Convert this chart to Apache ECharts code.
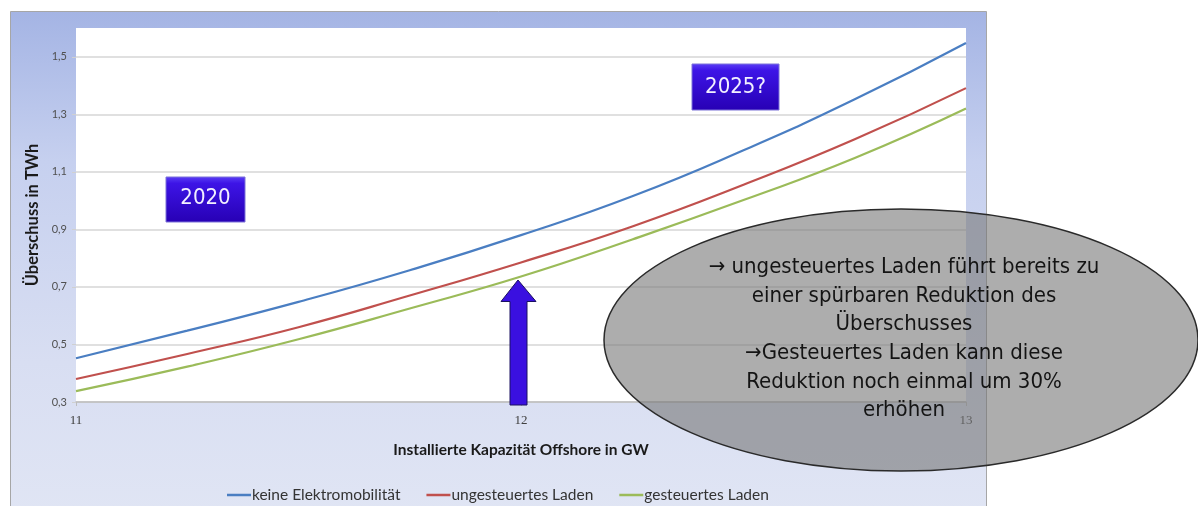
<!DOCTYPE html>
<html>
<head>
<meta charset="utf-8">
<script src="https://cdn.jsdelivr.net/npm/echarts@6/dist/echarts.min.js"></script>
<style>
html,body{margin:0;padding:0;background:#fff;}
#chart{width:1198px;height:506px;}
</style>
</head>
<body>
<div id="chart"></div>
<script>
// ---- data ----
const xValues = [11, 11.25, 11.5, 11.75, 12, 12.25, 12.5, 12.75, 13];
const keineElektromobilitaet = [0.452, 0.548, 0.648, 0.758, 0.880, 1.015, 1.175, 1.352, 1.548];
const ungesteuertesLaden = [0.380, 0.467, 0.560, 0.670, 0.785, 0.910, 1.055, 1.213, 1.391];
const gesteuertesLaden = [0.338, 0.423, 0.518, 0.625, 0.736, 0.865, 1.002, 1.148, 1.320];
const seriesNames = ['keine Elektromobilität', 'ungesteuertes Laden', 'gesteuertes Laden'];
const yTicks = [0.3, 0.5, 0.7, 0.9, 1.1, 1.3, 1.5];
const xTicks = [11, 12, 13];
const xAxisTitle = 'Installierte Kapazität Offshore in GW';
const yAxisTitle = 'Überschuss in TWh';
const ellipseText = '→ ungesteuertes Laden führt bereits zu\neiner spürbaren Reduktion des\nÜberschusses\n→Gesteuertes Laden kann diese\nReduktion noch einmal um 30%\nerhöhen';

const colors = ['#4a7ec2', '#c0504d', '#9bbb59'];
const allSeries = [keineElektromobilitaet, ungesteuertesLaden, gesteuertesLaden];

const chart = echarts.init(document.getElementById('chart'), null, {renderer: 'canvas'});

const narrow = '"Liberation Sans Narrow", "DejaVu Sans Condensed", sans-serif';

function labelBox(x, y, w, h, text, tx, ty) {
  return [
    {type: 'rect', z: 50, silent: true, shape: {x: x, y: y, width: w, height: h},
     style: {fill: new echarts.graphic.LinearGradient(0, 0, 0, 1, [
       {offset: 0, color: '#5b3ff6'}, {offset: 0.15, color: '#3d14e6'},
       {offset: 1, color: '#2700b4'}]), stroke: '#7d72d8', lineWidth: 1}},
    {type: 'text', z: 51, silent: true,
     style: {text: text, x: tx, y: ty, align: 'center', verticalAlign: 'middle',
      font: '22px ' + narrow, fill: '#f2f0ff'}}
  ];
}

const option = {
  animation: false,
  backgroundColor: '#ffffff',
  grid: {left: 76, right: 232, top: 28, bottom: 104, show: true, backgroundColor: '#ffffff', borderWidth: 0},
  xAxis: {
    type: 'value', min: 11, max: 13, interval: 1,
    name: xAxisTitle, nameLocation: 'middle', nameGap: 40,
    nameTextStyle: {fontFamily: 'Lato', fontWeight: 'bold', fontSize: 15.5, color: '#1a1a1a'},
    axisLine: {show: true, lineStyle: {color: '#bdbdbd', width: 1.5}},
    axisTick: {show: true, length: 4, lineStyle: {color: '#bdbdbd'}},
    axisLabel: {fontFamily: '"Liberation Serif", serif', fontSize: 13, color: '#404040', margin: 12,
      formatter: v => xTicks.indexOf(v) >= 0 ? String(v) : ''},
    splitLine: {show: false}
  },
  yAxis: {
    type: 'value', min: 0.3, max: 1.6, interval: 0.2,
    name: yAxisTitle, nameLocation: 'middle', nameGap: 34, nameRotate: 90,
    nameTextStyle: {fontFamily: 'Lato', fontWeight: 'bold', fontSize: 16.5, color: '#1a1a1a'},
    axisLine: {show: false},
    axisTick: {show: true, length: 4, inside: false, lineStyle: {color: '#d0d0d0'}},
    axisLabel: {fontFamily: 'Lato', fontSize: 11, color: '#505050', margin: 9, showMaxLabel: false,
      formatter: v => yTicks.some(t => Math.abs(t - v) < 1e-6) ? v.toFixed(1).replace('.', ',') : ''},
    splitLine: {show: true, showMaxLine: false, lineStyle: {color: '#d6d6d6', width: 1.5}}
  },
  legend: {
    left: 222, top: 482, itemGap: 26, itemWidth: 24, itemHeight: 2.5, icon: 'rect',
    textStyle: {fontFamily: 'Lato', fontSize: 15.5, color: '#333', padding: [0, 0, 0, -4]},
    data: seriesNames
  },
  series: seriesNames.map((name, i) => ({
    name: name, type: 'line', smooth: true, symbol: 'none', z: 3,
    lineStyle: {color: colors[i], width: 2.2},
    itemStyle: {color: colors[i]},
    data: xValues.map((x, j) => [x, allSeries[i][j]])
  })),
  graphic: [
    {type: 'rect', z: -10, silent: true,
     shape: {x: 10.5, y: 11.5, width: 976, height: 500},
     style: {fill: new echarts.graphic.LinearGradient(0, 0, 0, 1, [
       {offset: 0, color: '#a4b4e4'}, {offset: 0.3, color: '#c6d0ef'},
       {offset: 0.7, color: '#d8def2'}, {offset: 1, color: '#e0e5f4'}]),
       stroke: '#a6a6a6', lineWidth: 1}},
    ...labelBox(166, 177, 79, 45, '2020', 205.5, 198),
    ...labelBox(692, 64, 87, 46, '2025?', 735.5, 87),
    {type: 'polygon', z: 60, silent: true,
     shape: {points: [[518, 280], [536, 301.5], [527, 301.5], [527, 405], [510, 405], [510, 301.5], [501, 301.5]]},
     style: {fill: '#3a10e0', stroke: '#1a1060', lineWidth: 1}},
    {type: 'ellipse', z: 70, silent: true,
     shape: {cx: 901, cy: 340, rx: 297, ry: 131},
     style: {fill: 'rgba(118,118,118,0.6)', stroke: '#2a2a2a', lineWidth: 1.5}},
    {type: 'text', z: 71, silent: true,
     style: {text: ellipseText, x: 904, y: 339, align: 'center', verticalAlign: 'middle',
       font: '22px ' + narrow, lineHeight: 28.7, fill: '#141414'}}
  ]
};
chart.setOption(option);
</script>
</body>
</html>
